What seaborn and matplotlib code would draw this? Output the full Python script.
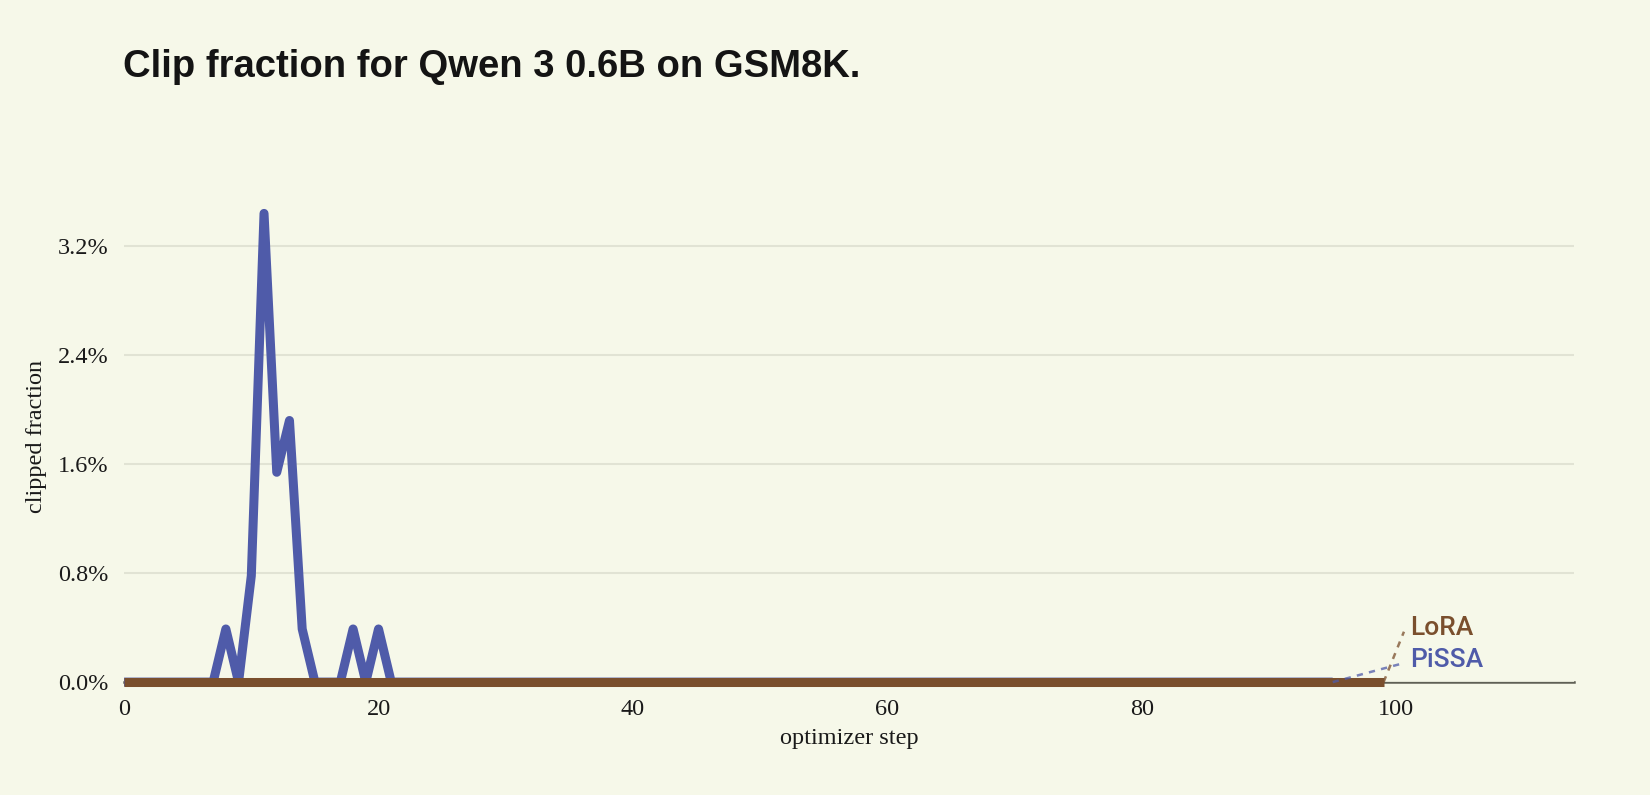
import pandas as pd
import seaborn as sns
import matplotlib.pyplot as plt
from matplotlib.ticker import PercentFormatter

# clipped fraction per optimizer step
pissa_clip = [
    0.0, 0.0, 0.0, 0.0, 0.0, 0.0, 0.0, 0.0, 0.0039, 0.0,
    0.0078, 0.0344, 0.0154, 0.0192, 0.0039, 0.0, 0.0, 0.0, 0.0039, 0.0,
    0.0039, 0.0, 0.0, 0.0, 0.0, 0.0, 0.0, 0.0, 0.0, 0.0,
    0.0, 0.0, 0.0, 0.0, 0.0, 0.0, 0.0, 0.0, 0.0, 0.0,
    0.0, 0.0, 0.0, 0.0, 0.0, 0.0, 0.0, 0.0, 0.0, 0.0,
    0.0, 0.0, 0.0, 0.0, 0.0, 0.0, 0.0, 0.0, 0.0, 0.0,
    0.0, 0.0, 0.0, 0.0, 0.0, 0.0, 0.0, 0.0, 0.0, 0.0,
    0.0, 0.0, 0.0, 0.0, 0.0, 0.0, 0.0, 0.0, 0.0, 0.0,
    0.0, 0.0, 0.0, 0.0, 0.0, 0.0, 0.0, 0.0, 0.0, 0.0,
    0.0, 0.0, 0.0, 0.0, 0.0, 0.0,
]
lora_clip = [
    0.0, 0.0, 0.0, 0.0, 0.0, 0.0, 0.0, 0.0, 0.0, 0.0,
    0.0, 0.0, 0.0, 0.0, 0.0, 0.0, 0.0, 0.0, 0.0, 0.0,
    0.0, 0.0, 0.0, 0.0, 0.0, 0.0, 0.0, 0.0, 0.0, 0.0,
    0.0, 0.0, 0.0, 0.0, 0.0, 0.0, 0.0, 0.0, 0.0, 0.0,
    0.0, 0.0, 0.0, 0.0, 0.0, 0.0, 0.0, 0.0, 0.0, 0.0,
    0.0, 0.0, 0.0, 0.0, 0.0, 0.0, 0.0, 0.0, 0.0, 0.0,
    0.0, 0.0, 0.0, 0.0, 0.0, 0.0, 0.0, 0.0, 0.0, 0.0,
    0.0, 0.0, 0.0, 0.0, 0.0, 0.0, 0.0, 0.0, 0.0, 0.0,
    0.0, 0.0, 0.0, 0.0, 0.0, 0.0, 0.0, 0.0, 0.0, 0.0,
    0.0, 0.0, 0.0, 0.0, 0.0, 0.0, 0.0, 0.0, 0.0, 0.0,
]
methods = ["PiSSA", "LoRA"]
y_ticks = [0.0, 0.008, 0.016, 0.024, 0.032]
x_ticks = [0, 20, 40, 60, 80, 100]

bg = "#f6f8e9"
colors = {"PiSSA": "#4f5ba9", "LoRA": "#7a4f2d"}

df = pd.concat([
    pd.DataFrame({"step": range(len(pissa_clip)), "clip": pissa_clip, "method": "PiSSA"}),
    pd.DataFrame({"step": range(len(lora_clip)), "clip": lora_clip, "method": "LoRA"}),
])

sns.set_style("white")
serif = ["Liberation Serif", "DejaVu Serif"]

fig = plt.figure(figsize=(16.5, 7.95), dpi=100, facecolor=bg)
ax = fig.add_axes([0.0752, 0.142, 0.879, 0.617], facecolor=bg)

sns.lineplot(data=df, x="step", y="clip", hue="method", hue_order=methods,
             palette=colors, linewidth=6.5, legend=False, ax=ax,
             solid_capstyle="butt", solid_joinstyle="round", clip_on=False)

ax.set_xlim(0, 114)
ax.set_ylim(0, 0.036)
ax.set_xticks(x_ticks)
ax.set_yticks(y_ticks)
ax.yaxis.set_major_formatter(PercentFormatter(xmax=1, decimals=1))
ax.grid(axis="y", color="#e1e3d4", linewidth=1.5)
ax.grid(axis="x", visible=False)
ax.set_axisbelow(True)
for s in ["left", "right", "top"]:
    ax.spines[s].set_visible(False)
ax.spines["bottom"].set_color("#5f6055")
ax.spines["bottom"].set_linewidth(1.8)
ax.spines["bottom"].set_zorder(0.5)
ax.tick_params(axis="both", length=0, labelsize=17.5, colors="#1a1a1a")
ax.tick_params(axis="y", pad=11)
ax.tick_params(axis="x", pad=12)
for lab in ax.get_xticklabels() + ax.get_yticklabels():
    lab.set_fontfamily(serif)

ax.set_xlabel("optimizer step", fontsize=17.5, family=serif, color="#1a1a1a", labelpad=6)
ax.set_ylabel("clipped fraction", fontsize=17.5, family=serif, color="#1a1a1a", labelpad=8)

# end labels with dotted leaders
ends = {"LoRA": (len(lora_clip) - 1, lora_clip[-1], 0.0037, 0.0040),
        "PiSSA": (len(pissa_clip) - 1, pissa_clip[-1], 0.0014, 0.0016)}
for name, (x0, y0, y1, ylab) in ends.items():
    ax.plot([x0, 100.6], [y0, y1], color=colors[name], alpha=0.75,
            linewidth=1.8, linestyle=(0, (2.5, 2.5)), clip_on=False)
    ax.text(101.1, ylab, name, color=colors[name], fontsize=19, fontweight="medium",
            family=["Roboto", "Liberation Sans", "DejaVu Sans"], va="center", ha="left")

fig.text(0.0745, 0.903, "Clip fraction for Qwen 3 0.6B on GSM8K.",
         fontsize=27.5, fontweight="bold", color="#141414",
         family=["Liberation Sans", "DejaVu Sans"], ha="left", va="baseline")

fig.savefig("out.png", dpi=100, facecolor=bg)
